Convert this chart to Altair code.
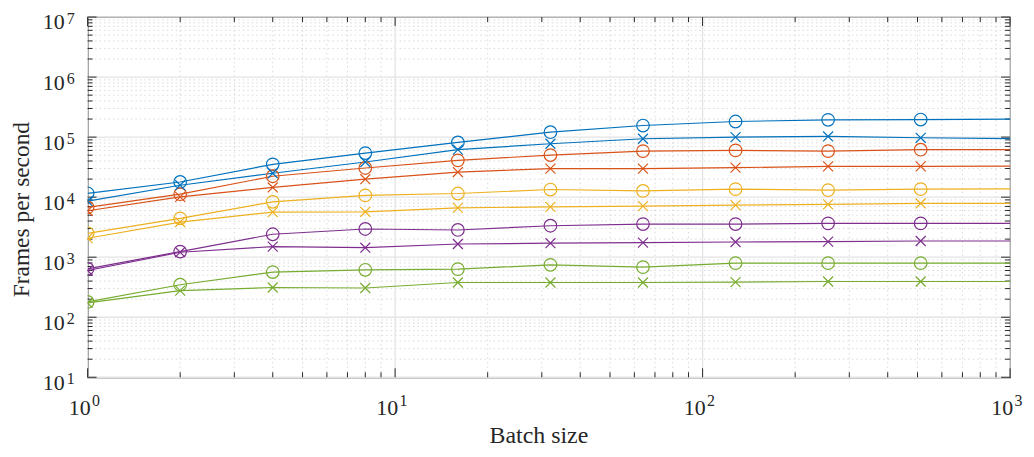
import altair as alt
import pandas as pd

# ---------------- data ----------------
batch = [1, 2, 4, 8, 16, 32, 64, 128, 256, 512, 1024]

blue_o = [11600, 17900, 35200, 54200, 81500, 120800, 156000, 182000, 194000, 196000, 199000]
blue_x = [8590, 15800, 25000, 38500, 61800, 77600, 94000, 99800, 102500, 97500, 94000]
orange_o = [6750, 11200, 22300, 30600, 41000, 50200, 58500, 60100, 58500, 61700, 61700]
orange_x = [5930, 10100, 14500, 19900, 26200, 29900, 29900, 31000, 32600, 32600, 33000]
yellow_o = [2500, 4440, 8360, 10700, 11500, 13400, 12700, 13600, 13100, 13600, 13700]
yellow_x = [2070, 3850, 5640, 5700, 6640, 6900, 7090, 7370, 7570, 7860, 7860]
purple_o = [640, 1240, 2410, 2950, 2840, 3340, 3560, 3560, 3660, 3660, 3660]
purple_x = [600, 1210, 1500, 1440, 1660, 1710, 1750, 1790, 1815, 1860, 1860]
green_o = [180, 348, 565, 617, 633, 746, 684, 796, 796, 796, 796]
green_x = [173, 277, 313, 307, 379, 379, 379, 385, 394, 394, 394]

groups = ["blue", "orange", "yellow", "purple", "green"]
colors = ["#0072BD", "#D95319", "#EDB120", "#7E2F8E", "#77AC30"]

series = [
    ("blue", "o", blue_o), ("blue", "x", blue_x),
    ("orange", "o", orange_o), ("orange", "x", orange_x),
    ("yellow", "o", yellow_o), ("yellow", "x", yellow_x),
    ("purple", "o", purple_o), ("purple", "x", purple_x),
    ("green", "o", green_o), ("green", "x", green_x),
]

x_major = [1, 10, 100, 1000]
y_major = [10, 100, 1000, 10000, 100000, 1000000, 10000000]
x_minor = [d * 10 ** k for k in range(0, 3) for d in range(2, 10)]
y_minor = [d * 10 ** k for k in range(1, 7) for d in range(2, 10)]

rows = []
for g, m, vals in series:
    for b, v in zip(batch, vals):
        rows.append({"batch": b, "fps": v, "group": g, "marker": m, "series": g + "-" + m})
df = pd.DataFrame(rows)
df_marks = df[df["batch"] <= 512]

W, H = 927, 362
FONT = "Liberation Serif"
TXT = "#262626"

xscale = alt.Scale(type="log", domain=[1, 1000], nice=False)
yscale = alt.Scale(type="log", domain=[10, 1e7], nice=False)
cscale = alt.Scale(domain=groups, range=colors)

xaxis = alt.Axis(values=x_major, labels=False, ticks=False, grid=False, domain=False,
                 title="Batch size", titleFont=FONT, titleFontSize=24, titleFontWeight="normal",
                 titleColor=TXT, titleX=453, titleY=65.5, titleAlign="center",
                 titleBaseline="alphabetic")
yaxis = alt.Axis(values=y_major, labels=False, ticks=False, grid=False, domain=False,
                 title="Frames per second", titleFont=FONT, titleFontSize=23.5, titleFontWeight="normal",
                 titleColor=TXT, titleX=-59, titleY=193, titleAlign="center",
                 titleBaseline="alphabetic", titleAngle=270)

def X(field):
    return alt.X(field, scale=xscale, axis=xaxis)

def Y(field):
    return alt.Y(field, scale=yscale, axis=yaxis)

# grid
gx_minor = alt.Chart(pd.DataFrame({"v": x_minor})).mark_rule(
    color="#d0d0d0", strokeWidth=0.8, strokeDash=[1.5, 3]).encode(x=X("v:Q"))
gy_minor = alt.Chart(pd.DataFrame({"v": y_minor})).mark_rule(
    color="#d0d0d0", strokeWidth=0.8, strokeDash=[1.5, 3]).encode(y=Y("v:Q"))
gx_major = alt.Chart(pd.DataFrame({"v": x_major})).mark_rule(
    color="#e3e3e3", strokeWidth=1.3).encode(x=X("v:Q"))
gy_major = alt.Chart(pd.DataFrame({"v": y_major})).mark_rule(
    color="#e3e3e3", strokeWidth=1.3).encode(y=Y("v:Q"))

# inward ticks
def xticks(vals, ln):
    d = pd.DataFrame({"v": vals})
    b = alt.Chart(d).mark_rule(color=TXT, strokeWidth=1).encode(
        x=X("v:Q"), y=alt.value(H), y2=alt.value(H - ln))
    t = alt.Chart(d).mark_rule(color=TXT, strokeWidth=1).encode(
        x=X("v:Q"), y=alt.value(0), y2=alt.value(ln))
    return [b, t]

def yticks(vals, ln):
    d = pd.DataFrame({"v": vals})
    l = alt.Chart(d).mark_rule(color=TXT, strokeWidth=1).encode(
        y=Y("v:Q"), x=alt.value(0), x2=alt.value(ln))
    r = alt.Chart(d).mark_rule(color=TXT, strokeWidth=1).encode(
        y=Y("v:Q"), x=alt.value(W), x2=alt.value(W - ln))
    return [l, r]

ticks = xticks(x_major, 9) + xticks(x_minor, 5) + yticks(y_major, 9) + yticks(y_minor, 5)

# tick labels: "10" with a raised exponent
exp_calc = "'' + round(log(datum.v) / LN10)"
xl = pd.DataFrame({"v": x_major})
yl = pd.DataFrame({"v": y_major})
xl_base = alt.Chart(xl).mark_text(text="10", font=FONT, fontSize=22, color=TXT, align="right",
                                  baseline="alphabetic", dx=3).encode(
    x=X("v:Q"), y=alt.value(H + 38))
xl_exp = alt.Chart(xl).transform_calculate(e=exp_calc).mark_text(
    font=FONT, fontSize=16, color=TXT, align="left", baseline="alphabetic", dx=4.5).encode(
    x=X("v:Q"), y=alt.value(H + 29), text="e:N")
yl_base = alt.Chart(yl).mark_text(text="10", font=FONT, fontSize=22, color=TXT, align="right",
                                  baseline="alphabetic", dy=12.5).encode(
    y=Y("v:Q"), x=alt.value(-23))
yl_exp = alt.Chart(yl).transform_calculate(e=exp_calc).mark_text(
    font=FONT, fontSize=16, color=TXT, align="left", baseline="alphabetic", dy=6.5).encode(
    y=Y("v:Q"), x=alt.value(-21), text="e:N")

lines = alt.Chart(df).mark_line(strokeWidth=1.2, clip=True).encode(
    x=X("batch:Q"),
    y=Y("fps:Q"),
    color=alt.Color("group:N", scale=cscale, legend=None),
    detail="series:N",
)

circles = alt.Chart(df_marks).transform_filter("datum.marker == 'o'").mark_point(
    shape="circle", filled=False, size=160, strokeWidth=1.2, opacity=1, clip=True).encode(
    x=X("batch:Q"),
    y=Y("fps:Q"),
    color=alt.Color("group:N", scale=cscale, legend=None),
)

crosses = alt.Chart(df_marks).transform_filter("datum.marker == 'x'").mark_point(
    shape="M-1,-1L1,1M-1,1L1,-1", filled=False, size=100, strokeWidth=1.2, opacity=1, clip=True).encode(
    x=X("batch:Q"),
    y=Y("fps:Q"),
    color=alt.Color("group:N", scale=cscale, legend=None),
)

chart = alt.layer(gx_minor, gy_minor, gx_major, gy_major, *ticks,
                  xl_base, xl_exp, yl_base, yl_exp,
                  lines, circles, crosses).properties(
    width=W, height=H,
    autosize=alt.AutoSizeParams(type="none"),
    padding={"left": 80, "top": 8, "right": 16, "bottom": 71},
    background="white",
).configure_view(stroke=TXT, strokeWidth=1.2)

chart.save("out.html", embed_options={"renderer": "svg", "actions": False})
